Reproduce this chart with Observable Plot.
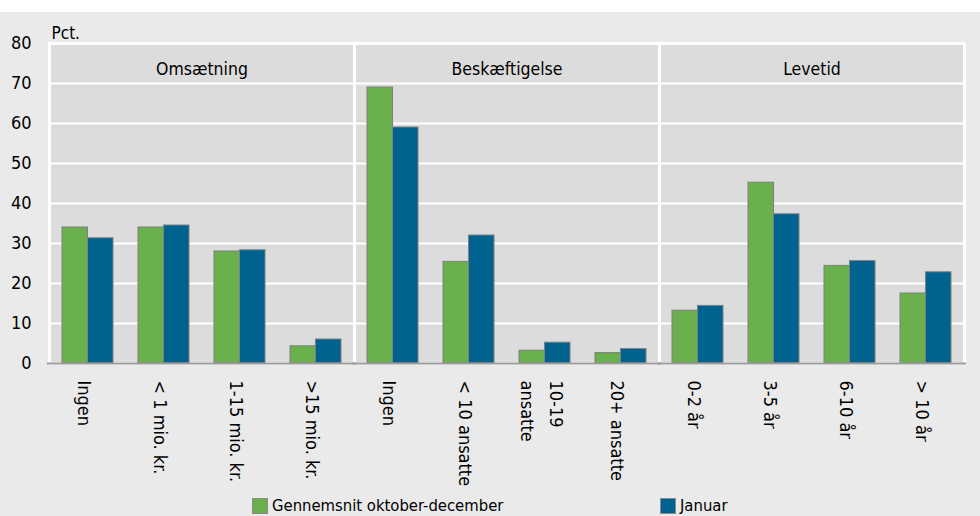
<!DOCTYPE html>
<html><head><meta charset="utf-8">
<script src="https://cdn.jsdelivr.net/npm/d3@7"></script>
<script src="https://cdn.jsdelivr.net/npm/@observablehq/plot@0.6"></script>
<style>
body{margin:0;background:#eaeaea;width:980px;height:516px;overflow:hidden;font-family:"DejaVu Sans Condensed",sans-serif;}
#top{height:12px;background:#fff}
#chart{height:483px}
#legend{position:relative;font-size:16.5px;height:21px;color:#000}
.item{position:absolute;top:0;height:21px;display:flex;align-items:center}
.sw{display:inline-block;width:14px;height:14px;border:1px solid #8a8a8a;margin-right:4px}
</style></head><body>
<div id="top"></div><div id="chart"></div><div id="legend"></div>
<script>
const facets = ["Omsætning", "Beskæftigelse", "Levetid"];
const categories = [
  ["Ingen", "< 1 mio. kr.", "1-15 mio. kr.", ">15 mio. kr."],
  ["Ingen", "< 10 ansatte", "10-19\nansatte", "20+ ansatte"],
  ["0-2 år", "3-5 år", "6-10 år", "> 10 år"]
];
const series = ["Gennemsnit oktober-december", "Januar"];
const avgOktDec = [34.0, 34.0, 28.0, 4.3, 69.0, 25.4, 3.2, 2.6, 13.2, 45.2, 24.4, 17.5];
const januar = [31.3, 34.5, 28.3, 6.0, 59.0, 32.0, 5.2, 3.6, 14.4, 37.3, 25.6, 22.8];
const yTicks = [0, 10, 20, 30, 40, 50, 60, 70, 80];
const colors = ["#6ab04c", "#00628f"];

const rows = [];
facets.forEach((f, fi) => categories[fi].forEach((c, i) => {
  const k = fi * 4 + i;
  rows.push({facet: f, idx: i, label: c, v0: avgOktDec[k], v1: januar[k]});
}));

const W = 980, ML = 48, MR = 15;
const pIn = 0.333, pOut = 0.167;
const fw = (W - ML - MR) / facets.length;
const step = fw / (4 - pIn + 2 * pOut);
const half = step * (1 - pIn) / 2;
const font = '"DejaVu Sans Condensed",sans-serif';

const chart = Plot.plot({
  width: W, height: 483, marginLeft: ML, marginRight: MR, marginTop: 31, marginBottom: 132,
  style: {background: "transparent", fontFamily: font, fontSize: "17px", color: "#000"},
  fx: {domain: facets, padding: 0, axis: null},
  x: {domain: [0, 1, 2, 3], paddingInner: pIn, paddingOuter: pOut, axis: null},
  y: {domain: [0, 80], axis: null},
  marks: [
    Plot.frame({fill: "#dcdcdc", stroke: "white", strokeWidth: 3}),
    Plot.gridY(yTicks, {stroke: "white", strokeOpacity: 1, strokeWidth: 2}),
    Plot.axisY(yTicks, {tickSize: 0, tickPadding: 18, fontSize: 18, label: null}),
    Plot.barY(rows, {fx: "facet", x: "idx", y: "v0", fill: colors[0], stroke: "#7f7f7f", strokeWidth: 1, insetRight: half}),
    Plot.barY(rows, {fx: "facet", x: "idx", y: "v1", fill: colors[1], stroke: "#7f7f7f", strokeWidth: 1, insetLeft: half}),
    Plot.ruleY([0], {stroke: "#9a9a9a", strokeWidth: 2, insetLeft: -2, insetRight: -2}),
    Plot.text(rows, {fx: "facet", x: "idx", text: "label", frameAnchor: "bottom", dy: 17, rotate: 90, textAnchor: "start", lineAnchor: "middle", lineHeight: 1.65, fontSize: 18}),
    Plot.text(facets, {fx: d => d, text: d => d, frameAnchor: "top", dy: 26, lineAnchor: "middle", fontSize: 17.5}),
    Plot.text(["Pct."], {fx: () => facets[0], text: d => d, frameAnchor: "top-left", dx: 2, dy: -5, textAnchor: "start", lineAnchor: "bottom", fontSize: 17})
  ]
});
document.getElementById("chart").appendChild(chart);

const legendLeft = [252, 660];
const leg = document.getElementById("legend");
series.forEach((s, i) => {
  const it = document.createElement("div");
  it.className = "item";
  it.style.left = legendLeft[i] + "px";
  const sw = document.createElement("span");
  sw.className = "sw";
  sw.style.background = colors[i];
  it.appendChild(sw);
  it.appendChild(document.createTextNode(s));
  leg.appendChild(it);
});
</script>
</body></html>
